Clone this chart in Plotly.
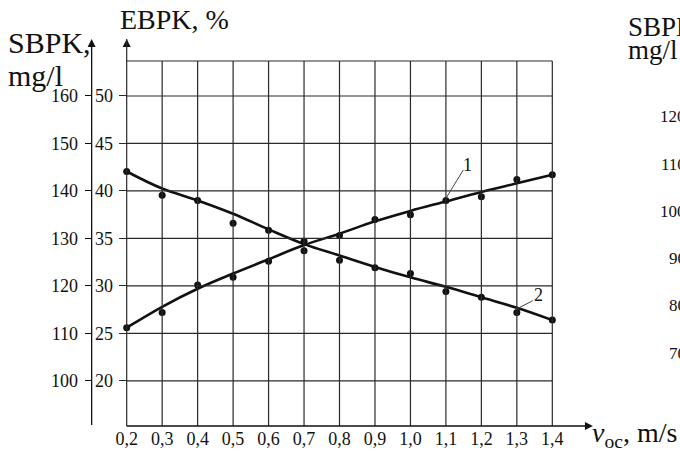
import plotly.graph_objects as go

# ---------------- data ----------------
x_vals = [0.2, 0.3, 0.4, 0.5, 0.6, 0.7, 0.8, 0.9, 1.0, 1.1, 1.2, 1.3, 1.4]
x_labels = ["0,2", "0,3", "0,4", "0,5", "0,6", "0,7", "0,8", "0,9", "1,0", "1,1", "1,2", "1,3", "1,4"]
ebpk_ticks = [20, 25, 30, 35, 40, 45, 50]
sbpk_ticks = [100, 110, 120, 130, 140, 150, 160]
right_ticks = ["120", "110", "100", "90", "80", "70"]

# curve 1 (EBPK, %)
curve1_pts = [25.6, 27.2, 30.1, 30.9, 32.6, 33.7, 35.3, 37.0, 37.5, 39.0, 39.4, 41.2, 41.7]
curve1_fit = [25.6, 27.8, 29.7, 31.3, 32.8, 34.3, 35.5, 36.8, 37.9, 38.9, 39.9, 40.8, 41.7]
# curve 2 (SBPK, mg/l)
curve2_pts = [144.1, 139.1, 138.0, 133.2, 131.7, 129.4, 125.4, 123.8, 122.6, 118.8, 117.6, 114.4, 112.8]
curve2_fit = [144.1, 140.5, 138.0, 135.2, 131.9, 128.8, 126.4, 124.0, 121.8, 119.8, 117.6, 115.4, 112.8]

# ---------------- scales ----------------
X0, X1 = -0.1572, 1.760          # x range over full figure width
E0, E1 = 12.196, 60.106          # EBPK range over full figure height
S0, S1 = 2 * E0 + 60, 2 * E1 + 60  # SBPK = 2*EBPK + 60
E_BOTTOM, E_TOP, E_TIP = 15.249, 53.683, 56.0
X_SB_AXIS, X_TIP = 0.1012, 1.5146

W, H = 680, 455
SERIF = "Liberation Serif"
INK = "#111"
GRID = "#2a2a2a"


def pp(px, py):
    return px / W, 1 - py / H


fig = go.Figure()

# curves
fig.add_trace(go.Scatter(x=x_vals, y=curve1_fit, mode="lines", line=dict(color=INK, width=2.6, shape="spline"),
                         yaxis="y", hoverinfo="skip"))
fig.add_trace(go.Scatter(x=x_vals, y=curve1_pts, mode="markers", marker=dict(color=INK, size=7), yaxis="y"))
fig.add_trace(go.Scatter(x=x_vals, y=curve2_fit, mode="lines", line=dict(color=INK, width=2.6, shape="spline"),
                         yaxis="y2", hoverinfo="skip"))
fig.add_trace(go.Scatter(x=x_vals, y=curve2_pts, mode="markers", marker=dict(color=INK, size=7), yaxis="y2"))

# axis arrowheads
fig.add_trace(go.Scatter(x=[x_vals[0], X_SB_AXIS], y=[E_TIP, E_TIP], mode="markers",
                         marker=dict(symbol="arrow-up", size=8, color=INK, line=dict(width=0)), yaxis="y"))
fig.add_trace(go.Scatter(x=[X_TIP], y=[E_BOTTOM], mode="markers",
                         marker=dict(symbol="arrow-right", size=8, color=INK, line=dict(width=0)), yaxis="y"))

shapes = []
# vertical grid
for i, xv in enumerate(x_vals):
    top = E_TIP if i == 0 else E_TOP
    shapes.append(dict(type="line", xref="x", yref="y", x0=xv, x1=xv, y0=E_BOTTOM, y1=top,
                       line=dict(color=GRID, width=1.2)))
# horizontal grid
for e in ebpk_ticks + [E_TOP]:
    shapes.append(dict(type="line", xref="x", yref="y", x0=x_vals[0], x1=x_vals[-1], y0=e, y1=e,
                       line=dict(color=GRID, width=1.2)))
# x axis
shapes.append(dict(type="line", xref="x", yref="y", x0=x_vals[0], x1=X_TIP - 0.01, y0=E_BOTTOM, y1=E_BOTTOM,
                   line=dict(color=INK, width=1.4)))
# SBPK axis
shapes.append(dict(type="line", xref="x", yref="y", x0=X_SB_AXIS, x1=X_SB_AXIS, y0=15.354, y1=E_TIP - 0.3,
                   line=dict(color=INK, width=1.3)))
# leader lines for curve labels
shapes.append(dict(type="line", xref="x", yref="y", x0=1.149, x1=1.1002, y0=42.21, y1=39.23,
                   line=dict(color="#444", width=1)))
shapes.append(dict(type="line", xref="x", yref="y", x0=1.3446, x1=1.2975, y0=28.44, y1=27.54,
                   line=dict(color="#444", width=1)))

ann = []


def txt(text, px, py, size, xanchor="left"):
    x, y = pp(px, py)
    ann.append(dict(text=text, x=x, y=y, xref="paper", yref="paper", xanchor=xanchor, yanchor="middle",
                    showarrow=False, font=dict(family=SERIF, size=size, color=INK)))


txt("SBPK,", 6, 42, 30)
txt("mg/l", 6, 76, 30)
txt("EBPK, %", 118, 20, 28)
txt("<i>v</i><sub>oc</sub>, m/s", 590, 434, 28)
txt("1", 467, 165, 18, "center")
txt("2", 538, 295, 18, "center")
# right cut-off chart
txt("SBPK,", 626, 27, 27)
txt("mg/l", 626, 50, 27)
for lab, py in zip(right_ticks, [117, 164, 211, 258, 305, 353]):
    txt(lab, 688, py, 17, "right")

fig.update_layout(
    width=W, height=H, margin=dict(l=0, r=0, t=0, b=0),
    paper_bgcolor="white", plot_bgcolor="white", showlegend=False,
    font=dict(family=SERIF, color=INK),
    shapes=shapes, annotations=ann,
    xaxis=dict(range=[X0, X1], tickvals=x_vals, ticktext=x_labels, showgrid=False, zeroline=False,
               showline=False, ticks="", anchor="free", position=(H - 426) / H, automargin=False,
               tickfont=dict(family=SERIF, size=18, color=INK)),
    yaxis=dict(range=[E0, E1], tickvals=ebpk_ticks, ticks="outside", ticklen=8, tickcolor=GRID, tickwidth=1.2,
               showgrid=False, zeroline=False, showline=False, anchor="free",
               position=(x_vals[0] - X0) / (X1 - X0), automargin=False, ticklabelstandoff=2,
               tickfont=dict(family=SERIF, size=18, color=INK)),
    yaxis2=dict(range=[S0, S1], tickvals=sbpk_ticks, ticks="outside", ticklen=7, tickcolor=INK, tickwidth=1.2,
                showgrid=False, zeroline=False, showline=False, overlaying="y", side="left", anchor="free",
                position=(X_SB_AXIS - X0) / (X1 - X0), automargin=False, ticklabelstandoff=3,
                tickfont=dict(family=SERIF, size=18, color=INK)),
)

fig.write_html("out.html")
